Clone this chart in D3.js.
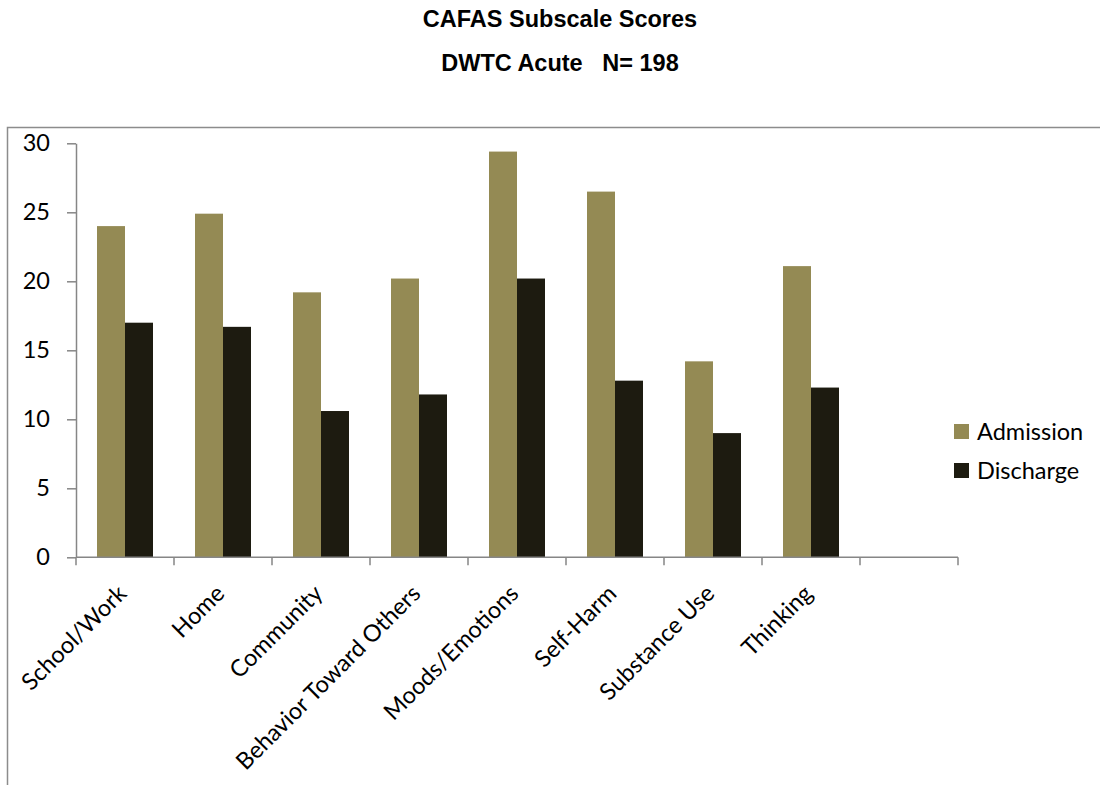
<!DOCTYPE html>
<html>
<head>
<meta charset="utf-8">
<script src="https://cdn.jsdelivr.net/npm/d3@7"></script>
<style>
  html, body { margin: 0; padding: 0; background: #fff; }
  svg { display: block; }
  text { white-space: pre; }
</style>
</head>
<body>
<svg id="chart" width="1100" height="785"></svg>
<script>
// CAFAS subscale means at admission and discharge
const categories = ["School/Work", "Home", "Community", "Behavior Toward Others",
  "Moods/Emotions", "Self-Harm", "Substance Use", "Thinking"];
const admission = [24.0, 24.9, 19.2, 20.2, 29.4, 26.5, 14.2, 21.1];
const discharge = [17.0, 16.7, 10.6, 11.8, 20.2, 12.8, 9.0, 12.3];
const seriesNames = ["Admission", "Discharge"];
const seriesColors = ["#948A54", "#1D1B10"];
const yTicks = [0, 5, 10, 15, 20, 25, 30];
const titleLines = ["CAFAS Subscale Scores", "DWTC Acute   N= 198"];

const svg = d3.select("#chart");
const axisColor = "#868686";
const labelFont = "Lato, 'Open Sans', sans-serif";
const labelSize = "23.5px";

// outer chart frame (runs past the right and bottom edges)
svg.append("rect")
  .attr("x", 7.5).attr("y", 127.5)
  .attr("width", 1200).attr("height", 800)
  .attr("fill", "none").attr("stroke", "#8c8c8c").attr("stroke-width", 1.5);

// titles
svg.selectAll("text.title").data(titleLines).join("text")
  .attr("class", "title")
  .attr("x", 560).attr("y", (d, i) => 27 + i * 44)
  .attr("text-anchor", "middle")
  .style("font-family", "'Liberation Sans', Arial, sans-serif")
  .style("font-weight", "bold").style("font-size", "23.5px")
  .text(d => d);

const plot = { left: 76, right: 958, top: 143.3, bottom: 557.3 };

// one spare empty slot on the right of the category axis
const slots = categories.concat([""]);
const x = d3.scaleBand().domain(d3.range(slots.length))
  .range([plot.left, plot.right]).paddingInner(0).paddingOuter(0);
const xs = d3.scaleBand().domain(seriesNames)
  .range([0, x.bandwidth()]).paddingInner(0).paddingOuter(0.75);
const y = d3.scaleLinear().domain([0, 30]).range([plot.bottom, plot.top]);

// bars
const values = [admission, discharge];
const g = svg.append("g");
seriesNames.forEach((s, si) => {
  g.selectAll("rect.s" + si).data(values[si]).join("rect")
    .attr("class", "s" + si)
    .attr("x", (d, i) => x(i) + xs(s))
    .attr("width", xs.bandwidth())
    .attr("y", d => y(d))
    .attr("height", d => y(0) - y(d))
    .attr("fill", seriesColors[si]);
});

// y axis
const yAxis = svg.append("g")
  .attr("transform", `translate(${plot.left},0)`)
  .call(d3.axisLeft(y).tickValues(yTicks).tickSize(9).tickPadding(17).tickSizeOuter(0));
yAxis.select(".domain").attr("stroke", axisColor).attr("stroke-width", 1.5);
yAxis.selectAll(".tick line").attr("stroke", axisColor).attr("stroke-width", 1.5);
yAxis.selectAll(".tick text")
  .style("font-family", labelFont).style("font-size", labelSize).attr("fill", "#000");

// x axis: ticks at slot boundaries
const boundaries = d3.range(slots.length + 1).map(i => plot.left + i * x.step());
const xAxisG = svg.append("g");
xAxisG.append("line")
  .attr("x1", plot.left).attr("x2", plot.right)
  .attr("y1", plot.bottom).attr("y2", plot.bottom)
  .attr("stroke", axisColor).attr("stroke-width", 1.5);
xAxisG.selectAll("line.tk").data(boundaries).join("line")
  .attr("class", "tk")
  .attr("x1", d => d).attr("x2", d => d)
  .attr("y1", plot.bottom).attr("y2", plot.bottom + 8)
  .attr("stroke", axisColor).attr("stroke-width", 1.5);

// rotated category labels
xAxisG.selectAll("text.cat").data(categories).join("text")
  .attr("class", "cat")
  .attr("transform", (d, i) => `translate(${x(i) + x.bandwidth() / 2 + 3},595) rotate(-45)`)
  .attr("text-anchor", "end")
  .style("font-family", labelFont).style("font-size", labelSize)
  .text(d => d);

// legend
const legend = svg.append("g");
seriesNames.forEach((s, i) => {
  legend.append("rect")
    .attr("x", 954).attr("y", 424 + i * 39)
    .attr("width", 15).attr("height", 15)
    .attr("fill", seriesColors[i]);
  legend.append("text")
    .attr("x", 977).attr("y", 431.5 + i * 39)
    .attr("dy", "0.35em")
    .style("font-family", labelFont).style("font-size", labelSize)
    .text(s);
});
</script>
</body>
</html>
